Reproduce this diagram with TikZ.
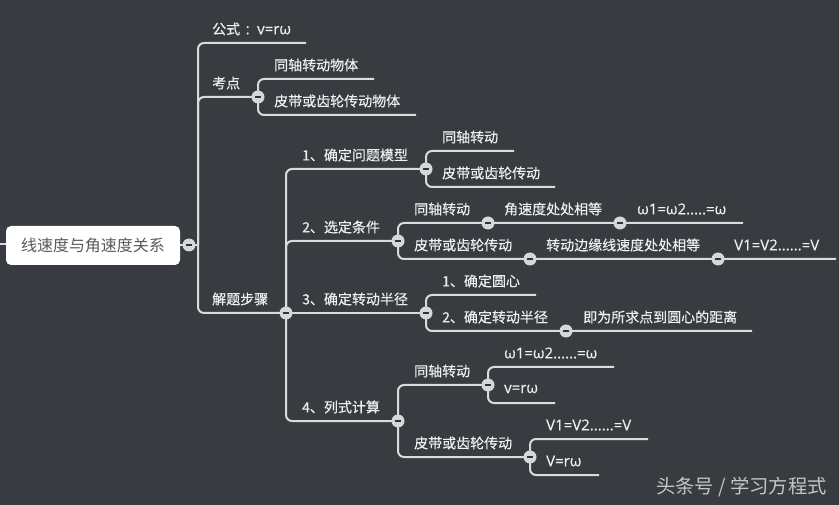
\documentclass[tikz,border=0pt]{standalone}
\usepackage{fontspec}
\setmainfont{Noto Sans CJK SC}
\newfontfamily\latinf[FakeBold=0.25]{Open Sans}
\usetikzlibrary{backgrounds}
\definecolor{bgc}{HTML}{383B40}
\definecolor{linec}{HTML}{DADBDC}
\definecolor{txtc}{HTML}{EFEFEF}
\definecolor{foldc}{HTML}{D5D7DA}
\definecolor{rootc}{HTML}{5A5A5A}
\definecolor{markc}{HTML}{C4C5C6}
\tikzset{
  x=1pt,y=-1pt,
  link/.style={draw=linec,line width=2pt,rounded corners=6pt},
  lab/.style={anchor=west,inner sep=0pt,text=txtc,font=\fontsize{14}{16}\selectfont\addfontfeatures{FakeBold=0.35}},
  fold/.style={circle,fill=foldc,minimum size=13pt,inner sep=0pt,
    path picture={\fill[bgc!85!black] ([xshift=-3.2pt,yshift=-1.1pt]path picture bounding box.center) rectangle ([xshift=3.2pt,yshift=1.1pt]path picture bounding box.center);}},
  rootbox/.style={fill=white,rounded corners=5pt,minimum width=174pt,minimum height=39pt,inner sep=0pt,text=rootc,font=\fontsize{16}{18}\selectfont},
}
\newcommand\lab[4]{\node[lab] (#1) at (#2,#3) {#4};}
\newcommand\latlab[4]{\node[lab] (#1) at (#2,#3) {\fontsize{15}{16}\selectfont\latinf #4};}
\newcommand\fd[3]{\node[fold] (#1) at (#2,#3) {};}
\newcommand\pt[3]{\coordinate (#1) at (#2,#3);}
\newcommand\lnk[2]{\draw[link] (#1.center) |- (#2.center);}
\begin{document}
\begin{tikzpicture}
\useasboundingbox (0,0) rectangle (839,505);
% root
\node[rootbox] (root) at (93,245.5) {线速度与角速度关系};
\fd{c0}{189}{245}
\pt{s0}{198}{245}
\pt{st}{0}{244}
% level 1
\lab{t1}{212}{29}{公式{\fontsize{15}{16}\selectfont\latinf\hspace{5.5pt}:\hspace{7.5pt}v=rω}}
\lab{t2}{212}{83}{考点}
\lab{t3}{212}{299}{解题步骤}
\pt{e1}{306}{43}
\fd{c1}{258}{97}
\fd{c2}{286}{313}
% kaodian
\lab{t11}{274}{65}{同轴转动物体}
\lab{t12}{274}{101}{皮带或齿轮传动物体}
\pt{e11}{374}{79}
\pt{e12}{416}{115}
% steps
\lab{a1}{302}{155}{1、确定问题模型}
\lab{a2}{302}{227}{2、选定条件}
\lab{a3}{302}{299}{3、确定转动半径}
\lab{a4}{302}{407}{4、列式计算}
\fd{ca1}{426}{169}
\fd{ca2}{398}{241}
\fd{ca3}{426}{313}
\fd{ca4}{398}{421}
% a1
\lab{b11}{442}{137}{同轴转动}
\lab{b12}{442}{173}{皮带或齿轮传动}
\pt{eb11}{514}{151}
\pt{eb12}{555}{187}
% a2
\lab{b21}{414}{209}{同轴转动}
\lab{b22}{504}{209}{角速度处处相等}
\latlab{b23}{637}{209}{ω1=ω2.....=ω}
\lab{b24}{414}{245}{皮带或齿轮传动}
\lab{b25}{546}{245}{转动边缘线速度处处相等}
\latlab{b26}{734}{245}{V1=V2......=V}
\fd{f21}{488}{223}
\fd{f22}{620}{223}
\fd{f23}{530}{259}
\fd{f24}{718}{259}
\pt{eb21}{743}{223}
\pt{eb22}{836}{259}
% a3
\lab{b31}{442}{281}{1、确定圆心}
\lab{b32}{442}{317}{2、确定转动半径}
\lab{b33}{583}{317}{即为所求点到圆心的距离}
\fd{f31}{566}{331}
\pt{eb31}{536}{295}
\pt{eb32}{752}{331}
% a4
\lab{b41}{414}{371}{同轴转动}
\lab{b42}{414}{443}{皮带或齿轮传动}
\fd{f41}{488}{385}
\fd{f42}{530}{457}
\latlab{d1}{504}{353}{ω1=ω2......=ω}
\latlab{d2}{504}{389}{v=rω}
\latlab{d3}{546}{425}{V1=V2......=V}
\latlab{d4}{546}{461}{V=rω}
\pt{ed1}{614}{367}
\pt{ed2}{555}{403}
\pt{ed3}{648}{439}
\pt{ed4}{599}{475}
% watermark
\node[anchor=east,inner sep=0pt,text=markc,font=\fontsize{19.3}{21}\selectfont] (wm) at (827,487) {头条号 / 学习方程式};
% connectors behind the nodes
\begin{scope}[on background layer]
\fill[bgc] (0,0) rectangle (839,505);
\draw[link] (st) -- (root.west |- st);
\draw[link] (root.east |- c0) -- (s0);
\lnk{s0}{e1}
\lnk{s0}{c1}
\lnk{s0}{c2}
\lnk{c1}{e11}
\lnk{c1}{e12}
\lnk{c2}{ca1}
\lnk{c2}{ca2}
\draw[link] (c2.center) -- (ca3.center);
\lnk{c2}{ca4}
\lnk{ca1}{eb11}
\lnk{ca1}{eb12}
\draw[link] (ca2.center) |- (f21.center) -- (f22.center) -- (eb21);
\draw[link] (ca2.center) |- (f23.center) -- (f24.center) -- (eb22);
\lnk{ca3}{eb31}
\draw[link] (ca3.center) |- (f31.center) -- (eb32);
\lnk{ca4}{f41}
\lnk{ca4}{f42}
\lnk{f41}{ed1}
\lnk{f41}{ed2}
\lnk{f42}{ed3}
\lnk{f42}{ed4}
\end{scope}
\end{tikzpicture}
\end{document}
